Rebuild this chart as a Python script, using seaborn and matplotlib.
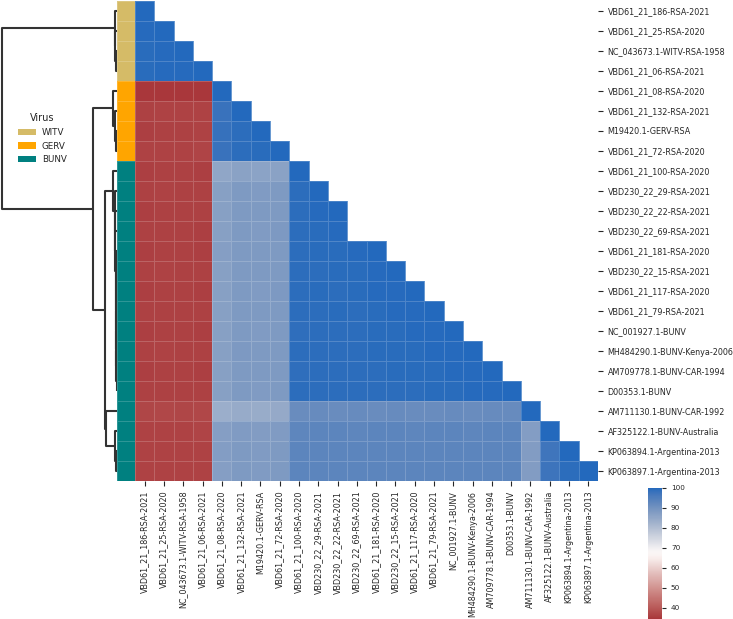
import numpy as np
import pandas as pd
import matplotlib
matplotlib.use('Agg')
import matplotlib.pyplot as plt
import seaborn as sns

sns.set_style('ticks')

# ── Sequence names (in clustered order) and virus groups ──────────────
names = ['VBD61_21_186-RSA-2021', 'VBD61_21_25-RSA-2020',
         'NC_043673.1-WITV-RSA-1958', 'VBD61_21_06-RSA-2021',
         'VBD61_21_08-RSA-2020', 'VBD61_21_132-RSA-2021',
         'M19420.1-GERV-RSA', 'VBD61_21_72-RSA-2020',
         'VBD61_21_100-RSA-2020', 'VBD230_22_29-RSA-2021',
         'VBD230_22_22-RSA-2021', 'VBD230_22_69-RSA-2021',
         'VBD61_21_181-RSA-2020', 'VBD230_22_15-RSA-2021',
         'VBD61_21_117-RSA-2020', 'VBD61_21_79-RSA-2021',
         'NC_001927.1-BUNV', 'MH484290.1-BUNV-Kenya-2006',
         'AM709778.1-BUNV-CAR-1994', 'D00353.1-BUNV',
         'AM711130.1-BUNV-CAR-1992', 'AF325122.1-BUNV-Australia',
         'KP063894.1-Argentina-2013', 'KP063897.1-Argentina-2013']
virus = ['WITV'] * 4 + ['GERV'] * 4 + ['BUNV'] * 16
virus_colors = {'WITV': '#d5bb67', 'GERV': '#ffa500', 'BUNV': '#008080'}

# ── Pairwise identity (%), lower triangle row by row ──────────────────
nan = np.nan
identity = [
    [100],
    [99.5, 100],
    [99.3, 99.6, 100],
    [99.4, 99.5, 99.7, 100],
    [34.5, 34.6, 34.5, 34.7, 100],
    [36.2, 36.4, 36.3, 36.5, 97.8, 100],
    [36.0, 36.2, 36.1, 36.3, 98.0, 99.2, 100],
    [36.3, 36.5, 36.4, 36.6, 97.9, 99.0, 99.4, 100],
    [36.0, 36.2, 36.1, 36.0, 85.3, 86.4, 86.1, 86.3, 100],
    [36.1, 36.3, 36.2, 36.1, 86.8, 88.1, 87.9, 88.2, 99.1, 100],
    [36.0, 36.2, 36.1, 36.1, 86.9, 88.2, 88.0, 88.1, 99.0, 99.5, 100],
    [36.1, 36.2, 36.2, 36.0, 86.8, 88.1, 87.9, 88.3, 99.2, 99.4, 99.6, nan],
    [36.0, 36.1, 36.1, 36.0, 87.0, 88.0, 88.0, 88.2, 99.0, 99.3, 99.4, 99.5, 100],
    [36.1, 36.3, 36.2, 36.1, 86.8, 88.1, 88.1, 88.1, 99.1, 99.2, 99.3, 99.4, 99.6, 100],
    [36.0, 36.2, 36.1, 36.0, 86.9, 88.0, 87.9, 88.3, 99.0, 99.3, 99.2, 99.3, 99.5, 99.6, 100],
    [36.1, 36.2, 36.2, 36.1, 86.7, 88.2, 88.0, 88.2, 99.1, 99.2, 99.3, 99.2, 99.4, 99.5, 99.7, 100],
    [36.0, 36.1, 36.1, 36.0, 86.8, 88.1, 87.9, 88.1, 98.9, 99.1, 99.2, 99.1, 99.3, 99.4, 99.5, 99.6, 100],
    [36.1, 36.3, 36.2, 36.1, 86.9, 88.3, 88.1, 88.2, 99.0, 99.2, 99.1, 99.2, 99.3, 99.3, 99.4, 99.5, 99.7, 100],
    [36.0, 36.2, 36.1, 36.0, 86.8, 88.2, 88.0, 88.1, 98.9, 99.1, 99.0, 99.1, 99.2, 99.3, 99.3, 99.4, 99.5, 99.7, 100],
    [36.1, 36.2, 36.2, 36.1, 86.7, 88.1, 87.9, 88.2, 99.0, 99.0, 99.1, 99.0, 99.1, 99.2, 99.2, 99.3, 99.4, 99.5, 99.6, 100],
    [37.0, 37.1, 37.0, 37.2, 83.6, 84.3, 84.1, 84.4, 91.4, 91.6, 91.5, 91.7, 91.5, 91.6, 91.4, 91.5, 91.6, 91.5, 91.7, 91.6, 100],
    [36.4, 36.5, 36.4, 36.6, 87.0, 87.8, 87.6, 87.9, 93.0, 93.2, 93.1, 93.0, 93.2, 93.1, 93.0, 93.1, 93.2, 93.0, 93.1, 93.2, 87.4, 100],
    [36.3, 36.4, 36.4, 36.5, 87.3, 88.1, 87.9, 88.0, 93.2, 93.3, 93.2, 93.1, 93.3, 93.2, 93.1, 93.2, 93.3, 93.1, 93.2, 93.3, 87.6, 97.0, 100],
    [36.3, 36.5, 36.4, 36.5, 87.2, 88.0, 87.8, 88.1, 93.1, 93.2, 93.3, 93.2, 93.2, 93.3, 93.2, 93.1, 93.2, 93.2, 93.3, 93.2, 87.5, 97.2, 99.2, 100],
]

# ── Row linkage (pre-computed tree: child a, child b, height, size) ──
linkage_rows = [
    [2, 3, 0.010, 2], [1, 24, 0.015, 3], [0, 25, 0.020, 4],
    [6, 7, 0.010, 2], [5, 27, 0.015, 3], [4, 28, 0.035, 4],
    [18, 19, 0.004, 2], [17, 30, 0.006, 3], [16, 31, 0.008, 4],
    [15, 32, 0.009, 5], [14, 33, 0.010, 6], [13, 34, 0.011, 7],
    [12, 35, 0.012, 8], [11, 36, 0.013, 9], [10, 37, 0.014, 10],
    [9, 38, 0.016, 11], [8, 39, 0.035, 12],
    [22, 23, 0.008, 2], [21, 41, 0.020, 3], [20, 42, 0.095, 4],
    [40, 43, 0.104, 16], [29, 44, 0.209, 20], [26, 45, 1.000, 24],
]

# ── Build full symmetric matrix and mask ──────────────────────────────
n = len(names)
mat = np.full((n, n), np.nan)
for i, row in enumerate(identity):
    for j, v in enumerate(row):
        mat[i, j] = v
        if i != j:
            mat[j, i] = v
df = pd.DataFrame(mat, index=names, columns=names)

mask = np.ones((n, n), dtype=bool)
for i, row in enumerate(identity):
    mask[i, :len(row)] = False
mask = mask | np.isnan(mat)

row_colors = pd.Series(virus, index=names).map(virus_colors)
row_colors.name = None

g = sns.clustermap(df, row_linkage=np.array(linkage_rows), col_cluster=False,
                   mask=mask, cmap='vlag_r', vmin=34.5, vmax=100,
                   row_colors=row_colors, linewidths=0.4,
                   linecolor=(1, 1, 1, 0.18),
                   xticklabels=True, yticklabels=True,
                   figsize=(7.33, 6.19),
                   tree_kws={'linewidths': 1.5, 'colors': '#333333'},
                   cbar_kws={'ticks': [40, 50, 60, 70, 80, 90, 100]},
                   cbar_pos=(0.884, 0.0, 0.019, 0.212))

# ── Layout ────────────────────────────────────────────────────────────
g.ax_col_dendrogram.set_visible(False)
g.ax_heatmap.set_position([0.1842, 0.2229, 0.6316, 0.7755])
g.ax_row_colors.set_position([0.1596, 0.2229, 0.0246, 0.7755])
g.ax_row_dendrogram.set_position([-0.005, 0.2229, 0.1646, 0.7755])
g.ax_cbar.set_position([0.884, 0.0, 0.019, 0.212])

g.ax_heatmap.set_xlabel('')
g.ax_heatmap.set_ylabel('')
g.ax_heatmap.tick_params(labelsize=5.75, length=3.5, width=0.8, pad=3.5)
plt.setp(g.ax_heatmap.get_yticklabels(), rotation=0)
plt.setp(g.ax_heatmap.get_xticklabels(), rotation=90)
g.ax_row_colors.set_xticks([])
g.ax_cbar.tick_params(labelsize=5.2, length=3, width=0.8)

# ── Legend for virus groups ───────────────────────────────────────────
for label in ['WITV', 'GERV', 'BUNV']:
    g.ax_row_dendrogram.bar(0, 0, color=virus_colors[label], label=label, linewidth=0)
g.figure.legend(*g.ax_row_dendrogram.get_legend_handles_labels(),
                title='Virus', loc='center', bbox_to_anchor=(0.058, 0.776),
                frameon=False, fontsize=6.3, title_fontsize=7,
                labelspacing=0.55, handletextpad=0.7)

g.figure.savefig('out.png', dpi=100)
